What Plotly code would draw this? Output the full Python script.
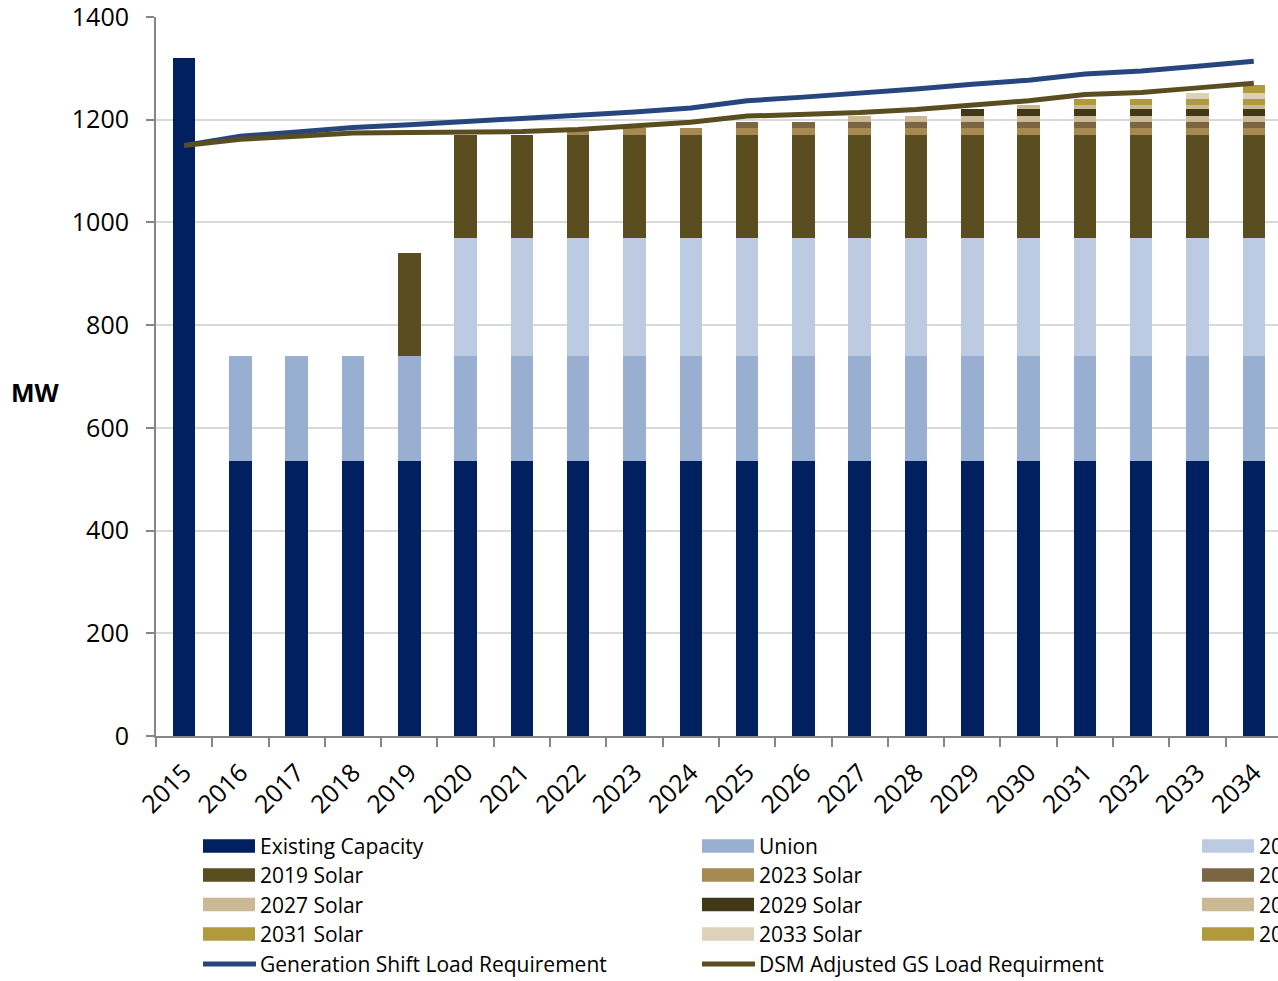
import plotly.graph_objects as go

years = [str(y) for y in range(2015, 2035)]

existing = [1320] + [535] * 19
union = [0] + [205] * 19
res_2020 = [0] * 5 + [230] * 15
solar_2019 = [0] * 4 + [200] * 16
solar_2023 = [0] * 7 + [13] * 13
solar_2025 = [0] * 10 + [12] * 10
solar_2027 = [0] * 12 + [13] * 8
solar_2029 = [0] * 14 + [12] * 6
solar_2030 = [0] * 15 + [8] * 5
solar_2031 = [0] * 16 + [12] * 4
solar_2033 = [0] * 18 + [13] * 2
solar_2034 = [0] * 19 + [14]

gs_load = [1150, 1168, 1176, 1185, 1190, 1196, 1201, 1207, 1215, 1223,
           1237, 1244, 1251, 1260, 1269, 1277, 1289, 1295, 1304, 1314]
dsm_load = [1150, 1162, 1168, 1174, 1175, 1175, 1177, 1181, 1187, 1195,
            1207, 1210, 1214, 1220, 1229, 1237, 1249, 1253, 1262, 1271]

y_ticks = [0, 200, 400, 600, 800, 1000, 1200, 1400]

bar_series = [
    ("Existing Capacity", existing, "#002060"),
    ("Union", union, "#98afd2"),
    ("2020 Capacity", res_2020, "#bccbe2"),
    ("2019 Solar", solar_2019, "#5a4d20"),
    ("2023 Solar", solar_2023, "#a68a52"),
    ("2025 Solar", solar_2025, "#7b6543"),
    ("2027 Solar", solar_2027, "#cbb894"),
    ("2029 Solar", solar_2029, "#403817"),
    ("2030 Solar", solar_2030, "#cbb894"),
    ("2031 Solar", solar_2031, "#b09a3b"),
    ("2033 Solar", solar_2033, "#ddd1b9"),
    ("2034 Solar", solar_2034, "#b09a3b"),
]
line_series = [
    ("Generation Shift Load Requirement", gs_load, "#27467f"),
    ("DSM Adjusted GS Load Requirment", dsm_load, "#5a4d20"),
]

FONT = "Open Sans"
W, H = 1278, 981
L, R, T, B = 156, 1278, 17, 736

fig = go.Figure()
for name, vals, col in bar_series:
    fig.add_trace(go.Bar(x=years, y=vals, name=name, marker_color=col,
                         marker_line_width=0, showlegend=False))
for name, vals, col in line_series:
    fig.add_trace(go.Scatter(x=years, y=vals, name=name, mode="lines",
                             line=dict(color=col, width=5), showlegend=False))

def px_x(p):
    return (p - L) / (R - L)

def px_y(p):
    return (B - p) / (B - T)

shapes = []
annotations = []
col_x = [203, 702, 1202]
row_y = [846, 875, 904.5, 934, 964]
items = [(n, c, "bar") for n, _, c in bar_series] + [(n, c, "line") for n, _, c in line_series]
for i, (name, col, kind) in enumerate(items):
    r, c = divmod(i, 3)
    x0 = col_x[c]
    yc = row_y[r]
    if kind == "bar":
        shapes.append(dict(type="rect", xref="paper", yref="paper",
                           x0=px_x(x0), x1=px_x(x0 + 52),
                           y0=px_y(yc - 6.7), y1=px_y(yc + 6.7),
                           fillcolor=col, line_width=0))
    else:
        shapes.append(dict(type="line", xref="paper", yref="paper",
                           x0=px_x(x0), x1=px_x(x0 + 53),
                           y0=px_y(yc), y1=px_y(yc),
                           line=dict(color=col, width=5)))
    annotations.append(dict(text=name, xref="paper", yref="paper",
                            x=px_x(x0 + 55), y=px_y(yc), xanchor="left",
                            yanchor="middle", showarrow=False,
                            font=dict(family=FONT, size=21, color="#000000")))

annotations.append(dict(text="<b>MW</b>", xref="paper", yref="paper",
                        x=px_x(35), y=px_y(392), xanchor="center", yanchor="middle",
                        showarrow=False, font=dict(family=FONT, size=25, color="#000000")))

fig.update_layout(
    width=W, height=H,
    barmode="stack", bargap=0.6,
    margin=dict(l=L, r=W - R, t=T, b=H - B, autoexpand=False),
    paper_bgcolor="white", plot_bgcolor="white",
    font=dict(family=FONT, color="#000000"),
    showlegend=False,
    shapes=shapes, annotations=annotations,
)
fig.update_xaxes(
    type="category", range=[-0.5, 19.43],
    showline=True, linecolor="#868686", linewidth=2,
    ticks="outside", tickson="boundaries", ticklen=9, tickcolor="#868686", tickwidth=2,
    tickangle=-45, tickfont=dict(family=FONT, size=25, color="#000000"),
    ticklabelstandoff=10, showgrid=False, ticklabeloverflow="allow",
)
fig.update_yaxes(
    range=[0, 1400], tickvals=y_ticks, ticktext=[str(v) for v in y_ticks],
    showline=True, linecolor="#868686", linewidth=2,
    ticks="outside", ticklen=8, tickcolor="#868686", tickwidth=2,
    tickfont=dict(family=FONT, size=25, color="#000000"),
    ticklabelstandoff=12, ticklabeloverflow="allow",
    showgrid=True, gridcolor="#d9d9d9", gridwidth=2, zeroline=False,
)

fig.write_html("out.html", config={"displayModeBar": False},
               post_script="document.body.style.margin='0';")
